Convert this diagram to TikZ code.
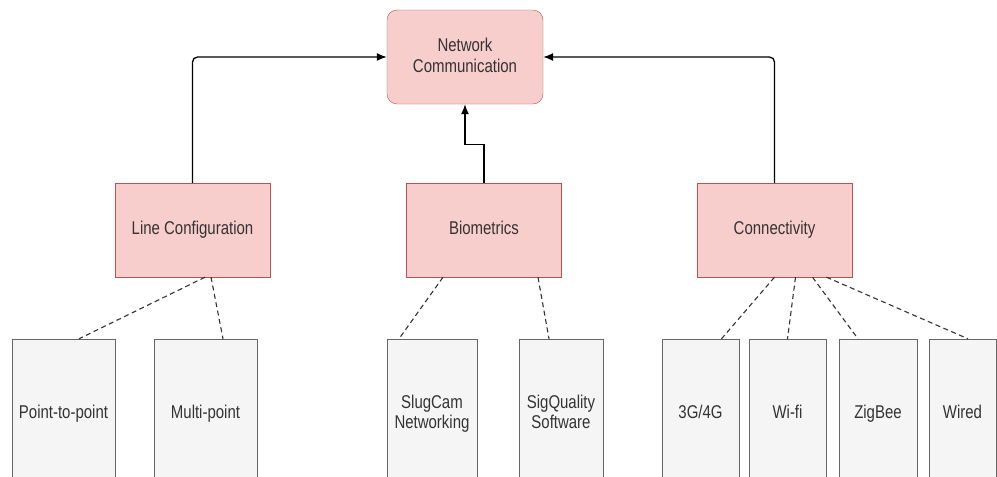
\documentclass[tikz,border=0pt]{standalone}
\usepackage{fontspec}
\setmainfont{Liberation Sans}[FakeStretch=0.81]
\usetikzlibrary{arrows.meta}
\definecolor{boxpink}{HTML}{F8CECC}
\definecolor{boxred}{HTML}{B85450}
\definecolor{leafgray}{HTML}{F5F5F5}
\definecolor{leafline}{HTML}{666666}
\definecolor{txtgray}{HTML}{333333}
\begin{document}
\begin{tikzpicture}[
            x=1pt, y=-1pt,
            font=\fontsize{18.5}{20.5}\selectfont,
            topbox/.style={draw=boxred, fill=boxpink, text=txtgray, rounded corners=10pt, align=center, minimum width=156pt, minimum height=94pt, inner sep=0pt, text depth=3pt},
            midbox/.style={draw=boxred, fill=boxpink, text=txtgray, minimum width=155pt, minimum height=94pt, inner sep=0pt, text height=13pt, text depth=4pt},
            leafbox/.style={draw=leafline, fill=leafgray, text=txtgray, align=center, minimum height=150pt, inner sep=0pt, text depth=4pt},
            uparrow/.style={draw=black, line width=1.3pt, -{Latex[length=10pt,width=8pt]}},
            dashlink/.style={draw=black!80, line width=1.1pt, dash pattern=on 5pt off 3.5pt}
        ]
        \useasboundingbox (0,0) rectangle (997,477);
        \clip (0,0) rectangle (997,477);
        \fill[white] (0,0) rectangle (997,477);

        \node[topbox] (net) at (465,57) {Network\\Communication};

        \node[midbox] (linecfg) at (192.5,230) {Line Configuration};
        \node[midbox] (bio) at (484,230) {Biometrics};
        \node[midbox] (conn) at (774.5,230) {Connectivity};

        \node[leafbox, minimum width=103pt] (ptp) at (63.5,414) {Point-to-point};
        \node[leafbox, minimum width=103pt] (multi) at (205.5,414) {Multi-point};
        \node[leafbox, minimum width=90pt] (slugcam) at (432,414) {SlugCam\\Networking};
        \node[leafbox, minimum width=84pt] (sigq) at (561,414) {SigQuality\\Software};
        \node[leafbox, minimum width=77pt] (cell) at (700.5,414) {3G/4G};
        \node[leafbox, minimum width=77pt] (wifi) at (787.5,414) {Wi-fi};
        \node[leafbox, minimum width=78pt] (zigbee) at (878,414) {ZigBee};
        \node[leafbox, minimum width=67pt] (wired) at (962.5,414) {Wired};

        \draw[uparrow, rounded corners=5pt] (linecfg.north) |- (net.west);
        \draw[uparrow, rounded corners=5pt] (conn.north) |- (net.east);
        \draw[uparrow] (bio.north) -- ++(0,-38) -| (net.south);

        \draw[dashlink] ([xshift=12.5pt]linecfg.south) -- ([xshift=15.5pt]ptp.north);
        \draw[dashlink] ([xshift=18.5pt]linecfg.south) -- ([xshift=17.5pt]multi.north);
        \draw[dashlink] ([xshift=-41pt]bio.south) -- ([xshift=-33pt]slugcam.north);
        \draw[dashlink] ([xshift=54pt]bio.south) -- ([xshift=-12pt]sigq.north);
        \draw[dashlink] ([xshift=0pt]conn.south) -- ([xshift=21pt]cell.north);
        \draw[dashlink] ([xshift=21pt]conn.south) -- ([xshift=0pt]wifi.north);
        \draw[dashlink] ([xshift=38pt]conn.south) -- ([xshift=-20pt]zigbee.north);
        \draw[dashlink] ([xshift=52pt]conn.south) -- ([xshift=5.5pt]wired.north);
    \end{tikzpicture}
\end{document}
